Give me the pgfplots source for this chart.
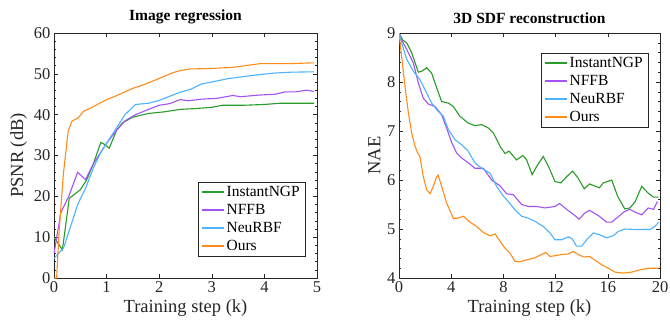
\documentclass[border=0pt]{standalone}
\usepackage{pgfplots}
\pgfplotsset{compat=1.18}
\usepackage{fontspec}
\setmainfont{Liberation Serif}
\definecolor{cgreen}{RGB}{40,155,40}
\definecolor{cpurple}{RGB}{162,82,245}
\definecolor{cblue}{RGB}{77,178,255}
\definecolor{corange}{RGB}{255,140,26}
\definecolor{axgray}{RGB}{38,38,38}
\pgfplotsset{
  legend image code/.code={\draw[#1, line width=1.5pt] (0pt,0pt) -- (22pt,0pt);},
  cycle list={{cgreen,line width=1.1pt},{cpurple,line width=1.1pt},{cblue,line width=1.1pt},{corange,line width=1.1pt}},
  mystyle/.style={
    width=263pt, height=245pt, scale only axis,
    anchor=south west,
    axis line style={draw=axgray},
    tick style={draw=axgray, line width=0.5pt},
    major tick length=4pt, minor tick length=2pt,
    tick align=inside,
    xtick pos=both, ytick pos=both,
    ticklabel style={font=\fontsize{16.5}{18}\selectfont, text=axgray},
    /pgf/number format/assume math mode=true,
    label style={font=\fontsize{18.5}{20}\selectfont, text=axgray},
    title style={font=\bfseries\fontsize{15.5}{17}\selectfont},
    legend style={draw=axgray, fill=white, font=\fontsize{15.5}{17}\selectfont,
      inner xsep=3pt, inner ysep=2pt, row sep=2pt, anchor=north east,
      nodes={inner ysep=0pt, text height=12pt, text depth=4pt}},
    legend cell align=left,
    xlabel={Training step (k)},
  },
}
\begin{document}
\begin{tikzpicture}[x=1pt,y=1pt]
\useasboundingbox (0,0) rectangle (670,322);
\begin{axis}[mystyle, at={(54pt,44pt)},
  xmin=0, xmax=5, ymin=0, ymax=60,
  xtick={0,1,2,3,4,5}, ytick={0,10,20,30,40,50,60},
  minor y tick num=4,
  title={Image regression}, ylabel={PSNR (dB)},
  legend style={at={(251pt,96pt)}}]
\addplot+[no markers] coordinates {(0,10) (0.16,6.9) (0.29,19.5) (0.5,21.6) (0.62,24) (0.75,28) (0.89,33.2) (0.95,32.8) (1.05,31.8) (1.19,36.2) (1.3,38) (1.5,39.4) (1.8,40.3) (2.1,40.7) (2.4,41.3) (2.7,41.5) (3.0,41.8) (3.2,42.3) (3.6,42.3) (4.0,42.5) (4.3,42.8) (4.94,42.8)};
\addlegendentry{InstantNGP}
\addplot+[no markers] coordinates {(0,6) (0.13,16) (0.28,20) (0.45,25.9) (0.6,24.1) (0.75,28) (0.85,30) (1.0,33) (1.18,36) (1.35,38.5) (1.55,40) (1.8,41.3) (2.0,42.3) (2.2,42.7) (2.4,43.7) (2.55,43.4) (2.8,43.8) (3.1,44) (3.4,44.7) (3.55,44.4) (3.9,44.8) (4.2,45) (4.4,45.6) (4.6,45.6) (4.8,46) (4.94,45.7)};
\addlegendentry{NFFB}
\addplot+[no markers] coordinates {(0,4.8) (0.12,6.5) (0.18,7.3) (0.3,12) (0.45,18) (0.6,22) (0.75,27) (0.9,31) (1.05,34) (1.2,37) (1.35,40) (1.55,42.5) (1.8,42.8) (2.0,43.5) (2.2,44.5) (2.4,45.5) (2.6,46.2) (2.8,47.5) (3.0,48) (3.3,48.8) (3.6,49.3) (3.9,49.8) (4.2,50.2) (4.5,50.4) (4.94,50.5)};
\addlegendentry{NeuRBF}
\addplot+[no markers] coordinates {(0,0) (0.05,0) (0.1,12) (0.18,25.7) (0.27,36) (0.34,38.4) (0.46,39.2) (0.56,40.8) (0.69,41.6) (0.81,42.4) (1.0,43.7) (1.16,44.5) (1.51,46.5) (1.7,47.3) (1.95,48.6) (2.24,50.2) (2.4,50.8) (2.59,51.2) (2.97,51.3) (3.41,51.6) (3.92,52.5) (4.49,52.5) (4.94,52.7)};
\addlegendentry{Ours}
\end{axis}
\begin{axis}[mystyle, at={(399pt,44pt)}, width=261pt,
  xmin=0, xmax=20, ymin=4, ymax=9,
  xtick={0,4,8,12,16,20}, ytick={4,5,6,7,8,9},
  minor y tick num=4,
  title={3D SDF reconstruction}, ylabel={NAE},
  legend style={at={(249pt,225pt)}}]
\addplot+[no markers] coordinates {(0,9) (0.3,8.85) (0.59,8.8) (0.97,8.6) (1.48,8.2) (1.74,8.22) (2.12,8.29) (2.5,8.18) (2.89,7.88) (3.27,7.6) (3.78,7.57) (4.16,7.5) (4.67,7.3) (5.31,7.16) (5.82,7.11) (6.33,7.13) (6.85,7.06) (7.23,6.96) (7.74,6.69) (8.12,6.54) (8.43,6.59) (9.0,6.41) (9.5,6.5) (9.78,6.41) (10.2,6.11) (10.6,6.3) (11.06,6.48) (11.5,6.25) (11.95,5.97) (12.4,5.94) (12.9,6.08) (13.3,6.18) (13.7,6.05) (14.2,5.82) (14.6,5.92) (15.35,5.84) (15.65,5.94) (16.3,6.0) (16.75,5.67) (17.3,5.41) (17.7,5.43) (18.1,5.56) (18.6,5.87) (19.1,5.73) (19.5,5.65) (19.9,5.65)};
\addlegendentry{InstantNGP}
\addplot+[no markers] coordinates {(0,9) (0.2,8.86) (0.6,8.66) (1.1,8.39) (1.48,7.98) (1.86,7.67) (2.25,7.55) (2.76,7.5) (3.27,7.33) (3.65,7.06) (4.04,6.76) (4.42,6.55) (4.8,6.45) (5.31,6.35) (5.82,6.24) (6.46,6.24) (7.1,6.0) (7.74,5.88) (8.25,5.72) (8.76,5.7) (9.4,5.5) (9.91,5.46) (10.55,5.46) (11.19,5.43) (11.95,5.46) (12.3,5.52) (12.85,5.4) (13.5,5.27) (13.8,5.2) (14.25,5.33) (14.6,5.38) (15.3,5.27) (15.9,5.14) (16.3,5.14) (16.8,5.25) (17.3,5.36) (17.7,5.4) (18.2,5.33) (18.6,5.29) (19.1,5.43) (19.5,5.4) (19.8,5.56)};
\addlegendentry{NFFB}
\addplot+[no markers] coordinates {(0,9) (0.2,8.8) (0.6,8.46) (1.1,8.22) (1.6,8.05) (2.0,7.84) (2.5,7.57) (3.0,7.4) (3.4,7.3) (3.78,7.03) (4.3,6.82) (4.8,6.72) (5.3,6.59) (5.82,6.35) (6.33,6.24) (6.97,6.14) (7.48,5.87) (8.0,5.67) (8.38,5.56) (8.89,5.39) (9.4,5.26) (9.91,5.22) (10.4,5.16) (11.06,5.05) (11.57,4.92) (11.95,4.78) (12.46,4.78) (12.98,4.84) (13.28,4.8) (13.6,4.65) (14.0,4.65) (14.38,4.78) (14.9,4.92) (15.4,4.88) (15.9,4.82) (16.4,4.86) (16.8,4.95) (17.3,5.0) (18.1,4.99) (18.85,4.99) (19.23,4.99) (19.6,5.05) (19.9,5.14)};
\addlegendentry{NeuRBF}
\addplot+[no markers] coordinates {(0,9) (0.2,8.52) (0.46,7.91) (0.72,7.37) (0.97,6.96) (1.23,6.69) (1.43,6.55) (1.6,6.48) (1.86,6.07) (2.12,5.8) (2.38,5.72) (2.63,5.87) (2.89,6.07) (3.0,6.1) (3.27,5.87) (3.65,5.53) (4.16,5.22) (4.5,5.22) (4.93,5.26) (5.44,5.14) (5.95,5.05) (6.46,4.93) (6.97,4.86) (7.36,4.9) (7.74,4.75) (8.12,4.61) (8.5,4.51) (8.89,4.34) (9.27,4.33) (9.78,4.37) (10.4,4.41) (10.93,4.48) (11.24,4.52) (11.57,4.44) (12.08,4.46) (12.46,4.48) (12.98,4.49) (13.36,4.54) (13.74,4.48) (14.13,4.43) (14.6,4.44) (15.15,4.34) (15.53,4.27) (16.04,4.2) (16.55,4.12) (17.19,4.1) (17.83,4.12) (18.34,4.16) (19.1,4.2) (19.9,4.2)};
\addlegendentry{Ours}
\end{axis}
\end{tikzpicture}
\end{document}
